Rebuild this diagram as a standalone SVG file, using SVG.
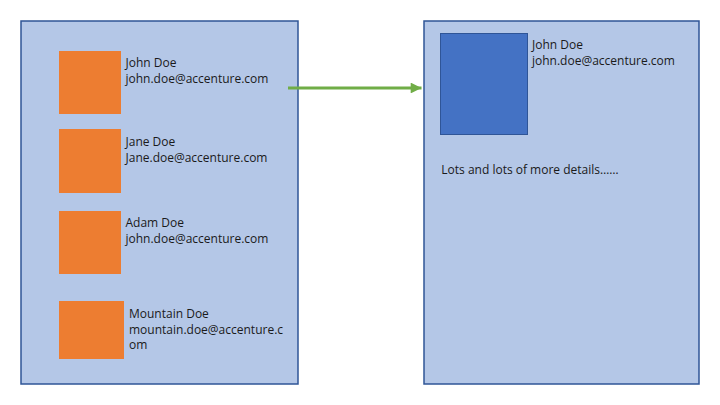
<svg xmlns="http://www.w3.org/2000/svg" width="720" height="405" viewBox="0 0 720 405">
<defs>
<style>
.panel{fill:#B4C7E7;stroke:#2F5597;stroke-width:1.5}
.org{fill:#ED7D31}
.blue{fill:#4472C4;stroke:#2F5597;stroke-width:1}
text{font-family:"Open Sans","Noto Sans",sans-serif;font-size:12px;fill:#1a1a1a}
.conn{stroke:#70AD47;stroke-width:3;fill:none}
</style>
<marker id="ah" viewBox="0 0 10 10" refX="10" refY="5" markerWidth="4" markerHeight="3.6" markerUnits="strokeWidth" orient="auto">
<path d="M0,0 L10,5 L0,10 z" fill="#70AD47"/>
</marker>
</defs>
<rect width="720" height="405" fill="#ffffff"/>
<g id="list-panel">
<rect class="panel" x="21" y="21" width="277" height="363"/>
</g>
<g id="detail-panel">
<rect class="panel" x="424" y="21" width="275" height="363"/>
</g>
<g id="john">
<rect class="org" x="59" y="51" width="62" height="63"/>
<text x="125.5" y="67">John Doe</text>
<text x="125.5" y="82.7">john.doe@accenture.com</text>
</g>
<g id="jane">
<rect class="org" x="59" y="129" width="62" height="64"/>
<text x="125.5" y="146">Jane Doe</text>
<text x="125.5" y="161.7">Jane.doe@accenture.com</text>
</g>
<g id="adam">
<rect class="org" x="59" y="211" width="62" height="63"/>
<text x="125.5" y="227.3">Adam Doe</text>
<text x="125.5" y="243.3">john.doe@accenture.com</text>
</g>
<g id="mountain">
<rect class="org" x="59" y="301" width="65" height="58"/>
<text x="129" y="318.3">Mountain Doe</text>
<text x="129" y="334">mountain.doe@accenture.c</text>
<text x="129" y="349.3">om</text>
</g>
<g id="detail">
<rect class="blue" x="440.5" y="33.5" width="87" height="101"/>
<text x="532" y="49.3">John Doe</text>
<text x="532" y="65">john.doe@accenture.com</text>
<text x="441.3" y="174.3">Lots and lots of more details……</text>
</g>
<g id="connectors">
<line class="conn" x1="288" y1="88" x2="421.5" y2="88" marker-end="url(#ah)"/>
</g>
</svg>
